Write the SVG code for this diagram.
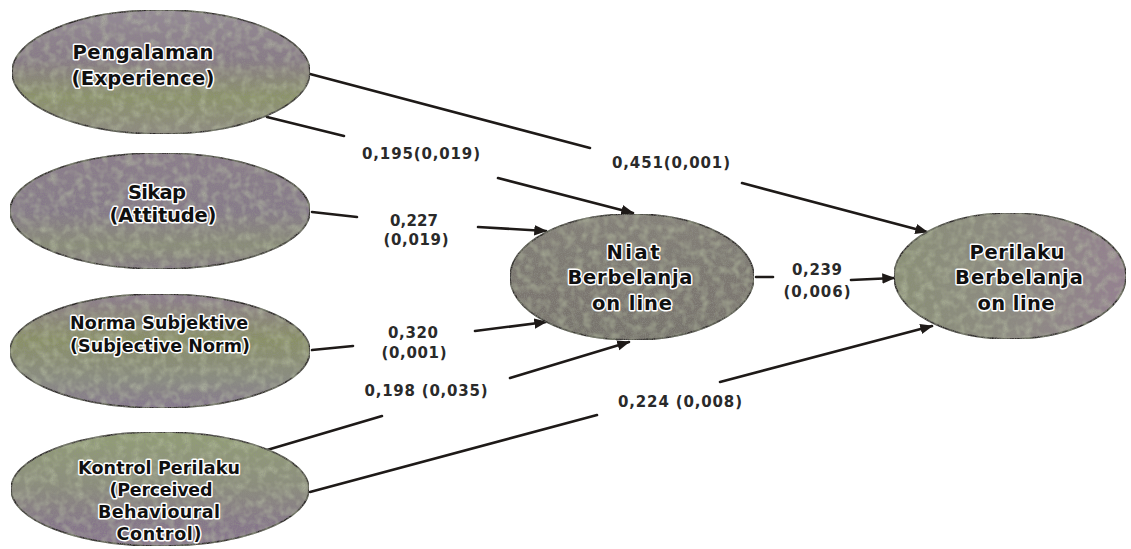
<svg xmlns="http://www.w3.org/2000/svg" width="1131" height="549" viewBox="0 0 1131 549">
<style>
.node{stroke:#2e2a2a;stroke-width:1.6}
.nt{font-family:"DejaVu Sans",sans-serif;font-weight:bold;font-size:19.5px;fill:#101010;stroke:#ffffff;stroke-width:3;stroke-linejoin:round;paint-order:stroke;text-anchor:middle}
.nk{font-size:17.5px}
.lbl{font-family:"DejaVu Sans",sans-serif;font-weight:bold;font-size:15px;fill:#2a2a2a;text-anchor:middle}
.cn line{stroke:#1e1a18;stroke-width:2.6;stroke-linecap:round}
</style>
<defs>
<filter id="grain" x="0" y="0" width="1" height="1">
<feTurbulence type="fractalNoise" baseFrequency="0.9" numOctaves="2" seed="4" result="n"/>
<feColorMatrix in="n" type="matrix" values="0 0 0 0 0.28  0 0 0 0 0.28  0 0 0 0 0.25  0 0 0 1.4 -0.55" result="g"/>
<feComposite in="g" in2="SourceGraphic" operator="in" result="gi"/>
<feTurbulence type="fractalNoise" baseFrequency="0.12" numOctaves="2" seed="9" result="m"/>
<feColorMatrix in="m" type="matrix" values="0 0 0 0 0.58  0 0 0 0 0.64  0 0 0 0 0.45  0 0 0 0.9 -0.38" result="mg"/>
<feComposite in="mg" in2="SourceGraphic" operator="in" result="mgi"/>
<feMerge><feMergeNode in="SourceGraphic"/><feMergeNode in="mgi"/><feMergeNode in="gi"/></feMerge>
</filter>
<linearGradient id="gPeng" x1="0" y1="0" x2="0" y2="1">
<stop offset="0" stop-color="#968a98"/><stop offset="0.4" stop-color="#887a88"/><stop offset="0.7" stop-color="#8c9468"/><stop offset="1" stop-color="#8e8a80"/>
</linearGradient>
<linearGradient id="gSik" x1="0" y1="0" x2="0" y2="1">
<stop offset="0" stop-color="#8c7d8d"/><stop offset="0.5" stop-color="#86798a"/><stop offset="0.8" stop-color="#8a8d78"/><stop offset="1" stop-color="#857a85"/>
</linearGradient>
<linearGradient id="gNor" x1="0" y1="0" x2="0" y2="1">
<stop offset="0" stop-color="#8d7b90"/><stop offset="0.4" stop-color="#8a9164"/><stop offset="0.75" stop-color="#8a8c82"/><stop offset="1" stop-color="#867690"/>
</linearGradient>
<linearGradient id="gKon" x1="0" y1="0" x2="0" y2="1">
<stop offset="0" stop-color="#93a074"/><stop offset="0.45" stop-color="#8c8f7c"/><stop offset="0.8" stop-color="#86768a"/><stop offset="1" stop-color="#8a7890"/>
</linearGradient>
<linearGradient id="gNiat" x1="0" y1="0" x2="0" y2="1">
<stop offset="0" stop-color="#858179"/><stop offset="0.5" stop-color="#7c7770"/><stop offset="1" stop-color="#77736c"/>
</linearGradient>
<linearGradient id="gPer" x1="0" y1="0" x2="1" y2="0">
<stop offset="0" stop-color="#8a9074"/><stop offset="0.5" stop-color="#8d8a82"/><stop offset="1" stop-color="#957f92"/>
</linearGradient>
<marker id="ah" viewBox="0 0 10 10" refX="9" refY="5" markerWidth="5" markerHeight="5" orient="auto" markerUnits="strokeWidth">
<path d="M0,1 L10,5 L0,9 z" fill="#1e1a18"/>
</marker>
</defs>
<rect width="1131" height="549" fill="#ffffff"/>

<g id="connectors" class="cn">
<line x1="310" y1="74" x2="590" y2="148"/>
<line x1="742" y1="183" x2="927" y2="232" marker-end="url(#ah)"/>
<line x1="267" y1="117" x2="344" y2="136"/>
<line x1="498" y1="178" x2="633" y2="213" marker-end="url(#ah)"/>
<line x1="312" y1="212" x2="357" y2="217"/>
<line x1="478" y1="227" x2="546" y2="231" marker-end="url(#ah)"/>
<line x1="312" y1="350" x2="353" y2="346"/>
<line x1="475" y1="331" x2="546" y2="322" marker-end="url(#ah)"/>
<line x1="267" y1="450" x2="382" y2="416"/>
<line x1="510" y1="378" x2="629" y2="342" marker-end="url(#ah)"/>
<line x1="310" y1="492" x2="597" y2="415"/>
<line x1="720" y1="382" x2="932" y2="326" marker-end="url(#ah)"/>
<line x1="756" y1="277" x2="773" y2="277"/>
<line x1="851" y1="280" x2="894" y2="278" marker-end="url(#ah)"/>
</g>

<g id="labels">
<text class="lbl" x="421" y="159" textLength="118" lengthAdjust="spacing">0,195(0,019)</text>
<text class="lbl" x="671" y="168" textLength="118" lengthAdjust="spacing">0,451(0,001)</text>
<text class="lbl" x="414" y="226" textLength="48" lengthAdjust="spacing">0,227</text>
<text class="lbl" x="416" y="245" textLength="65" lengthAdjust="spacing">(0,019)</text>
<text class="lbl" x="413" y="338" textLength="50" lengthAdjust="spacing">0,320</text>
<text class="lbl" x="414" y="358" textLength="65" lengthAdjust="spacing">(0,001)</text>
<text class="lbl" x="426" y="396" textLength="123" lengthAdjust="spacing">0,198 (0,035)</text>
<text class="lbl" x="817" y="275" textLength="50" lengthAdjust="spacing">0,239</text>
<text class="lbl" x="817" y="297" textLength="67" lengthAdjust="spacing">(0,006)</text>
<text class="lbl" x="680" y="407" textLength="124" lengthAdjust="spacing">0,224 (0,008)</text>
</g>

<g id="pengalaman">
<ellipse class="node" cx="161" cy="72" rx="149" ry="62" fill="url(#gPeng)" filter="url(#grain)"/>
<text class="nt" x="143" y="59" textLength="141" lengthAdjust="spacing">Pengalaman</text>
<text class="nt" x="143" y="85" textLength="143" lengthAdjust="spacing">(Experience)</text>
</g>

<g id="sikap">
<ellipse class="node" cx="160" cy="211" rx="150" ry="58" fill="url(#gSik)" filter="url(#grain)"/>
<text class="nt" x="157" y="199" textLength="58" lengthAdjust="spacing">Sikap</text>
<text class="nt" x="163" y="222" textLength="107" lengthAdjust="spacing">(Attitude)</text>
</g>

<g id="norma">
<ellipse class="node" cx="160" cy="351" rx="150" ry="57" fill="url(#gNor)" filter="url(#grain)"/>
<text class="nt nk" x="159" y="329" textLength="178" lengthAdjust="spacing">Norma Subjektive</text>
<text class="nt nk" x="160" y="352" textLength="180" lengthAdjust="spacing">(Subjective Norm)</text>
</g>

<g id="kontrol">
<ellipse class="node" cx="160" cy="489" rx="149" ry="57" fill="url(#gKon)" filter="url(#grain)"/>
<text class="nt nk" x="159" y="474" textLength="162" lengthAdjust="spacing">Kontrol Perilaku</text>
<text class="nt nk" x="161" y="496" textLength="103" lengthAdjust="spacing">(Perceived</text>
<text class="nt nk" x="159" y="518" textLength="122" lengthAdjust="spacing">Behavioural</text>
<text class="nt nk" x="159" y="540" textLength="85" lengthAdjust="spacing">Control)</text>
</g>

<g id="niat">
<ellipse class="node" cx="632" cy="277" rx="122" ry="63" fill="url(#gNiat)" filter="url(#grain)"/>
<text class="nt" x="633" y="259" textLength="53" lengthAdjust="spacing">Niat</text>
<text class="nt" x="630" y="284" textLength="125" lengthAdjust="spacing">Berbelanja</text>
<text class="nt" x="632" y="310" textLength="80" lengthAdjust="spacing">on line</text>
</g>

<g id="perilaku">
<ellipse class="node" cx="1010" cy="276" rx="116" ry="63" fill="url(#gPer)" filter="url(#grain)"/>
<text class="nt" x="1017" y="259" textLength="95" lengthAdjust="spacing">Perilaku</text>
<text class="nt" x="1019" y="284" textLength="128" lengthAdjust="spacing">Berbelanja</text>
<text class="nt" x="1016" y="310" textLength="77" lengthAdjust="spacing">on line</text>
</g>
</svg>
